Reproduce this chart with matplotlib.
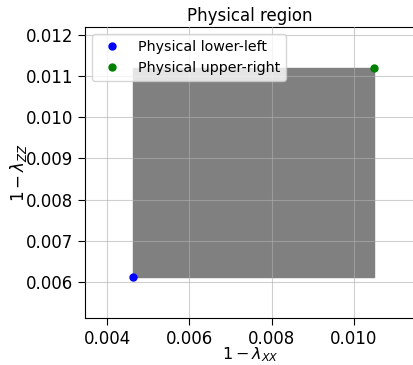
import matplotlib
matplotlib.use("Agg")
import matplotlib.pyplot as plt
from matplotlib.patches import Rectangle

lower_left = [0.00463, 0.00613]
upper_right = [0.0105, 0.0112]
xlim = [0.00346, 0.01149]
ylim = [0.00513, 0.01219]

fig = plt.figure(figsize=(4.14, 3.65), dpi=100)
ax = fig.add_axes([85/414, 47/365, 330/414, 291/365])
ax.add_patch(Rectangle((lower_left[0], lower_left[1]),
                       upper_right[0]-lower_left[0], upper_right[1]-lower_left[1],
                       color='gray', zorder=1))
ax.plot([lower_left[0]], [lower_left[1]], 'o', color='blue', ms=5, label='Physical lower-left', zorder=3)
ax.plot([upper_right[0]], [upper_right[1]], 'o', color='green', ms=5, label='Physical upper-right', zorder=3)
ax.set_xlim(xlim)
ax.set_ylim(ylim)
ax.set_xticks([0.004, 0.006, 0.008, 0.010])
ax.set_yticks([0.006, 0.007, 0.008, 0.009, 0.010, 0.011, 0.012])
ax.grid(True, zorder=2, alpha=0.6)
ax.set_axisbelow(False)
ax.tick_params(labelsize=12, length=5)
ax.set_xlabel(r'$1-\lambda_{XX}$', fontsize=11.5, labelpad=-1.5)
ax.set_ylabel(r'$1-\lambda_{ZZ}$', fontsize=12, labelpad=-2.5)
ax.set_title('Physical region', fontsize=12, pad=4)
ax.legend(loc='upper left', fontsize=10.3)
fig.savefig('out.png', dpi=100)
